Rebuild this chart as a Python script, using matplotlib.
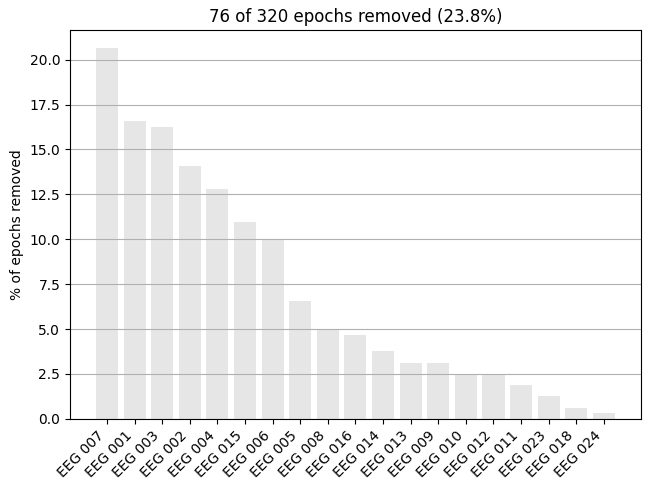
import matplotlib
matplotlib.use("Agg")
import matplotlib.pyplot as plt
import numpy as np

# ---- Data ----
channels = ["EEG 007", "EEG 001", "EEG 003", "EEG 002", "EEG 004", "EEG 015",
            "EEG 006", "EEG 005", "EEG 008", "EEG 016", "EEG 014", "EEG 013",
            "EEG 009", "EEG 010", "EEG 012", "EEG 011", "EEG 023", "EEG 018",
            "EEG 024"]
pct_removed = [20.625, 16.5625, 16.25, 14.0625, 12.8125, 10.9375, 10.0, 6.5625,
               5.0, 4.6875, 3.75, 3.125, 3.125, 2.5, 2.5, 1.875, 1.25, 0.625,
               0.3125]
n_removed = 76
n_total = 320

fig = plt.figure(figsize=(6.51, 4.91), dpi=100)
ax = fig.add_axes([0.1075, 0.147, 0.877, 0.792])

x = np.arange(len(channels))
ax.bar(x, pct_removed, width=0.8, color=(0.9, 0.9, 0.9), align="center")
ax.set_xticks(x)
ax.set_xticklabels(channels, rotation=45, ha="right")
ax.set_ylabel("% of epochs removed")
ax.set_title(f"{n_removed} of {n_total} epochs removed "
             f"({100 * n_removed / n_total:.1f}%)")
ax.grid(axis="y")

fig.savefig("out.png", dpi=100)
